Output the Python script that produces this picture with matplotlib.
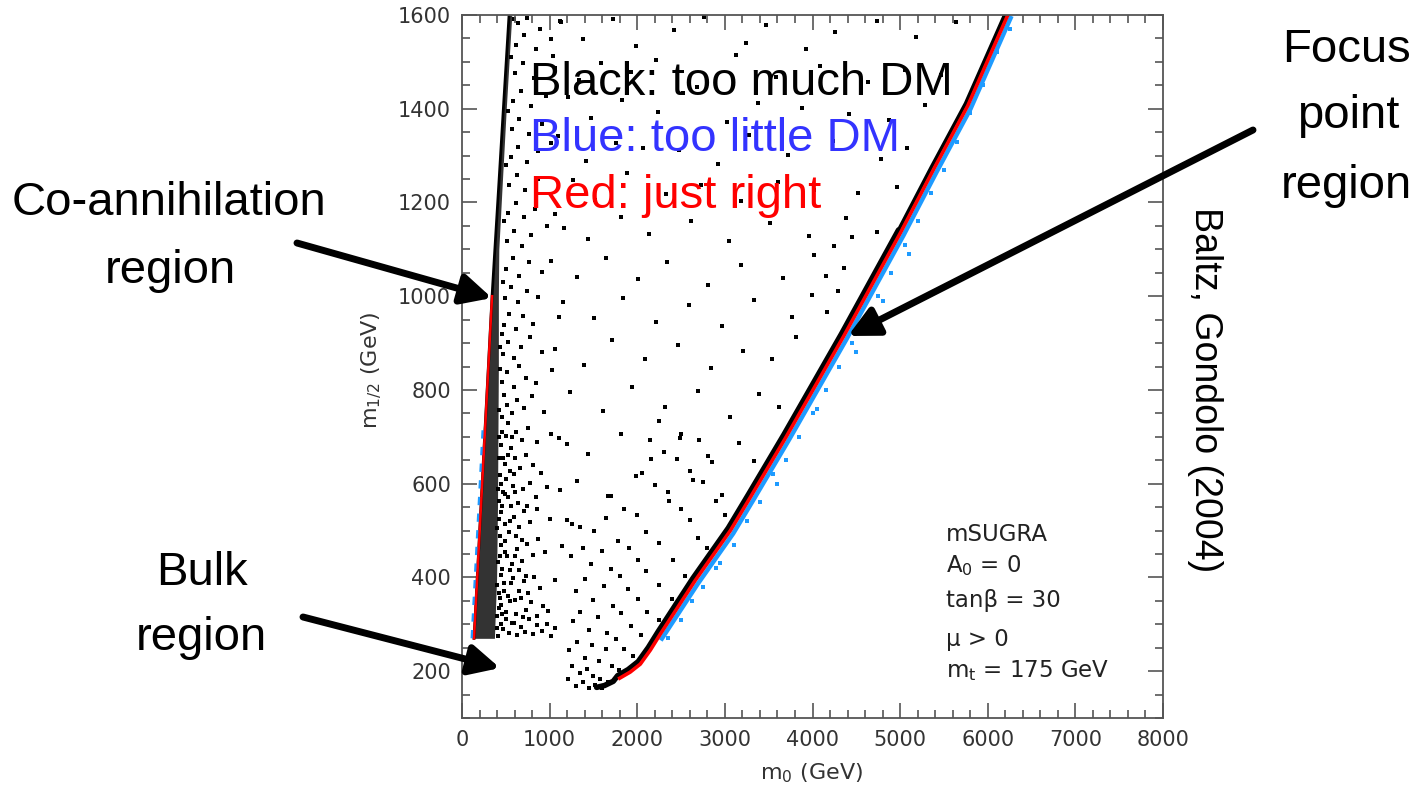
import matplotlib.pyplot as plt
import matplotlib.transforms as mtransforms
from matplotlib.ticker import MultipleLocator
import numpy as np

plt.rcParams['font.family'] = ['DejaVu Sans']
plt.rcParams['mathtext.fontset'] = 'dejavusans'

# co-annihilation strip: left edge and the dense core next to it
coann_m12 = [270, 400, 550, 700, 850, 1000, 1100, 1250, 1400, 1600]
coann_edge_m0 = [137, 174, 216, 258, 301, 343, 375, 424, 472, 537]
coann_core_m0 = [370, 395, 405, 410, 415, 415, 420, 462, 505, 568]
coann_red_m0 = [137, 216, 301, 343]
coann_red_m12 = [270, 550, 850, 1000]
coann_blue_m0 = [137, 216, 262]
coann_blue_m12 = [270, 550, 715]

# focus point strip
focus_black_m0 = [1560, 1650, 1750, 1800, 1920, 2035, 2150, 2263, 2660, 3063, 3291, 3700, 4354, 5006]
focus_black_m12 = [160, 164, 173, 185, 198, 215, 245, 279, 393, 500, 571, 700, 914, 1136]
focus_black_top_m0 = [5006, 5383, 5771, 6229]
focus_black_top_m12 = [1136, 1271, 1406, 1600]
focus_red_m0 = [1800, 1920, 2035, 2150, 2263, 2660, 3063, 3291, 3700, 4354, 5006, 5383, 5771, 6229]
focus_red_m12 = [185, 198, 215, 245, 279, 393, 500, 571, 700, 914, 1136, 1271, 1406, 1600]
focus_blue_m0 = [2250, 2660, 3063, 3291, 3700, 4354, 5006, 5383, 5771, 6229]
focus_blue_m12 = [276, 393, 500, 571, 700, 914, 1136, 1271, 1406, 1600]

# scattered black points (m0, m1/2)
left_cloud = [
    (412, 276), (468, 289), (533, 281), (589, 303), (627, 277), (671, 294), (718, 283), (763, 311),
    (812, 279), (858, 298), (911, 286), (967, 301), (1012, 276), (1058, 292), (440, 300), (500, 312),
    (395, 318), (447, 341), (506, 327), (553, 349), (612, 322), (668, 356), (734, 331), (789, 347),
    (852, 318), (921, 338), (985, 329), (430, 355), (480, 372),
    (421, 367), (476, 389), (528, 361), (585, 398), (646, 372), (702, 392), (757, 366), (823, 401),
    (889, 377), (1064, 395), (450, 405), (545, 415),
    (408, 432), (458, 417), (517, 446), (566, 428), (624, 461), (683, 436), (741, 471), (806, 448),
    (867, 482), (943, 455), (1141, 467), (440, 470), (495, 478),
    (432, 489), (489, 513), (538, 497), (596, 528), (651, 508), (707, 541), (778, 519), (861, 547),
    (1005, 525), (1252, 514), (450, 540), (560, 552),
    (419, 562), (471, 583), (524, 571), (581, 596), (637, 559), (698, 588), (771, 601), (842, 572),
    (967, 593), (1117, 586), (440, 600), (505, 610),
    (437, 618), (493, 641), (548, 627), (602, 655), (663, 634), (731, 661), (812, 639), (905, 622),
    (446, 683), (502, 702), (561, 676), (619, 711), (684, 694), (752, 719), (861, 688), (1012, 707),
    (1196, 684), (470, 655), (530, 730),
    (395, 292), (425, 335), (462, 322), (405, 383), (433, 445), (398, 505), (418, 525), (462, 552),
    (408, 588), (425, 655), (418, 700), (452, 711), (424, 758), (438, 845), (428, 892), (575, 302),
    (610, 352), (555, 387), (600, 446), (495, 455), (620, 489), (545, 520), (490, 578), (595, 620),
    (520, 662), (575, 700), (610, 582), (655, 415), (700, 315), (735, 402), (680, 479), (740, 552),
    (451, 742), (512, 768), (567, 751), (628, 779), (703, 761), (794, 788), (933, 752), (480, 790),
    (462, 816), (519, 838), (588, 807), (652, 851), (731, 826), (846, 815), (1031, 842),
    (473, 877), (528, 903), (597, 869), (672, 891), (774, 912), (911, 881), (455, 920),
    (484, 938), (539, 962), (612, 929), (693, 957), (814, 941), (1108, 956),
    (492, 996), (557, 1019), (634, 987), (737, 1011), (873, 998), (470, 1030),
    (503, 1057), (578, 1081), (651, 1043), (764, 1072), (915, 1052),
    (517, 1118), (593, 1139), (688, 1107), (793, 1131), (972, 1149), (480, 1160),
    (528, 1177), (618, 1199), (707, 1168), (834, 1187), (1062, 1176),
    (541, 1238), (627, 1259), (719, 1227), (873, 1251), (505, 1280),
    (558, 1297), (637, 1318), (738, 1286), (864, 1309), (1013, 1327),
    (572, 1356), (654, 1379), (767, 1347), (917, 1368), (530, 1395),
    (587, 1417), (673, 1438), (793, 1406), (961, 1427),
    (603, 1476), (697, 1497), (817, 1466), (1063, 1487), (560, 1510),
    (618, 1536), (709, 1557), (846, 1527), (1012, 1548),
    (636, 1583), (738, 1594), (893, 1571), (1113, 1588), (590, 1592),
]
middle_cloud = [
    (1130, 1585), (1380, 1548), (1720, 1592), (1985, 1533), (2420, 1568), (2760, 1596), (3240, 1541),
    (3470, 1579), (3930, 1527), (4260, 1563), (4740, 1588), (5180, 1552), (5640, 1584),
    (1040, 1512), (1330, 1461), (1590, 1497), (1930, 1478), (2210, 1503), (2680, 1447), (3130, 1514),
    (3580, 1468), (4080, 1491), (4630, 1456), (5060, 1483), (5470, 1471),
    (1210, 1426), (1470, 1381), (1830, 1419), (2240, 1392), (2520, 1433), (3020, 1371), (3380, 1412),
    (3880, 1402), (4420, 1388), (4870, 1376), (5280, 1409),
    (1090, 1342), (1420, 1288), (1760, 1327), (2060, 1316), (2480, 1311), (2920, 1283), (3270, 1344),
    (3720, 1302), (4230, 1331), (4780, 1293), (5080, 1317),
    (1270, 1247), (1520, 1206), (1880, 1262), (2330, 1219), (2730, 1238), (3180, 1203), (3610, 1244),
    (4020, 1226), (4520, 1221), (4960, 1233),
    (1160, 1146), (1437, 1121), (1812, 1168), (2138, 1133), (2617, 1161), (3042, 1118), (3516, 1157),
    (3962, 1129), (4386, 1166), (4741, 1137),
    (1012, 1076), (1318, 1042), (1642, 1081), (2013, 1036), (2338, 1073), (2812, 1024), (3187, 1066),
    (3661, 1039), (4013, 1087), (4243, 1108), (4362, 1061), (4447, 1126), (4158, 1044), (4295, 1012),
    (1147, 987), (1508, 953), (1838, 996), (2213, 944), (2591, 981), (2962, 936), (3338, 991),
    (3762, 955), (3991, 1002), (4162, 967),
    (1062, 887), (1391, 853), (1713, 906), (2087, 866), (2461, 896), (2843, 847), (3212, 884),
    (3538, 866), (3817, 912),
    (1238, 796), (1612, 754), (1941, 807), (2318, 763), (2689, 797), (3063, 743), (3391, 791),
    (3613, 764),
    (1112, 697), (1438, 663), (1812, 706), (2161, 652), (2488, 697), (2807, 659), (3163, 686),
    (3338, 648),
    (1312, 606), (1662, 574), (1988, 617), (2361, 563), (2637, 608), (2968, 576),
]
bulk_cloud = [
    (1212, 183), (1297, 168), (1381, 176), (1446, 163), (1523, 171), (1597, 164), (1342, 197),
    (1253, 211), (1424, 204), (1496, 189), (1572, 183), (1664, 176),
    (1226, 246), (1318, 263), (1404, 228), (1483, 256), (1561, 221), (1638, 247), (1716, 212),
    (1793, 203),
    (1263, 306), (1348, 327), (1452, 288), (1547, 316), (1653, 281), (1762, 268), (1846, 248),
    (1953, 233),
    (1296, 372), (1403, 396), (1497, 351), (1618, 381), (1723, 338), (1817, 324), (1924, 297),
    (2046, 278), (2153, 261),
    (1247, 446), (1383, 463), (1477, 428), (1603, 456), (1697, 417), (1806, 403), (1897, 376),
    (2003, 353), (2116, 327), (2247, 309),
    (1203, 523), (1352, 507), (1503, 498), (1647, 526), (1776, 477), (1903, 463), (2003, 437),
    (2097, 413), (2253, 383), (2397, 354),
    (1697, 573), (1853, 546), (1997, 533), (2103, 497), (2247, 473), (2403, 437), (2547, 404),
    (2053, 623), (2197, 597), (2353, 583), (2497, 547), (2603, 523), (2697, 484), (2797, 463),
    (2147, 693), (2303, 667), (2453, 653), (2597, 627), (2753, 603), (2897, 563), (2997, 533),
    (2253, 733), (2497, 707), (2703, 693), (2853, 647),
]
# scattered blue points just below the focus point strip
blue_cloud = [
    (2350, 270), (2500, 310), (2620, 350), (2750, 380), (2900, 420), (2950, 430), (3100, 470),
    (3250, 520), (3400, 560), (3550, 620), (3600, 600), (3700, 650), (3850, 700), (4000, 750),
    (4050, 760), (4150, 800), (4300, 850), (4450, 900), (4500, 880), (4600, 950), (4750, 1000),
    (4800, 990), (4900, 1050), (5050, 1110), (5100, 1090), (5200, 1160), (5350, 1220),
    (5500, 1270), (5650, 1330), (5800, 1390), (5950, 1450), (6100, 1520), (6250, 1570),
]

fig = plt.figure(figsize=(14.18, 7.92), dpi=100)
ax = fig.add_axes([462 / 1418, 1 - 718 / 792, 701 / 1418, 703 / 792])

dot = dict(marker='s', s=6, linewidths=0)

# co-annihilation region
ax.fill_betweenx(coann_m12, coann_edge_m0, coann_core_m0, color='black', alpha=0.8, lw=0)
ax.plot(coann_edge_m0, coann_m12, color='black', lw=2)
for cloud in (left_cloud, middle_cloud, bulk_cloud):
    pts = np.array(cloud)
    ax.scatter(pts[:, 0], pts[:, 1], color='black', **dot)

left_shift = mtransforms.offset_copy(ax.transData, fig=fig, x=-1.5, y=0, units='points')
ax.plot(coann_blue_m0, coann_blue_m12, color='#1e9bff', lw=2, dashes=(3, 3), transform=left_shift)
ax.plot(coann_red_m0, coann_red_m12, color='red', lw=1.8)

# focus point region
up_shift = mtransforms.offset_copy(ax.transData, fig=fig, x=-1.5, y=1.8, units='points')
down_shift = mtransforms.offset_copy(ax.transData, fig=fig, x=2.0, y=-2.2, units='points')
ax.plot(focus_black_m0, focus_black_m12, color='black', lw=4.0, transform=up_shift,
        solid_capstyle='round')
ax.plot(focus_black_top_m0, focus_black_top_m12, color='black', lw=2.6, transform=up_shift)
ax.plot(focus_blue_m0, focus_blue_m12, color='#1e9bff', lw=3.2, transform=down_shift)
bpts = np.array(blue_cloud)
ax.scatter(bpts[:, 0], bpts[:, 1], color='#1e9bff', **dot)
ax.plot(focus_red_m0, focus_red_m12, color='red', lw=2.6)

# axes
ax.set_xlim(0, 8000)
ax.set_ylim(100, 1600)
ax.set_xticks(np.arange(0, 8001, 1000))
ax.set_yticks(np.arange(200, 1601, 200))
ax.xaxis.set_minor_locator(MultipleLocator(200))
ax.yaxis.set_minor_locator(MultipleLocator(50))
ax.tick_params(which='both', direction='in', top=True, right=True, color='#555555',
               width=1.2, labelsize=15, labelcolor='#333333')
ax.tick_params(which='major', length=11)
ax.tick_params(which='minor', length=5.5)
ax.tick_params(axis='x', pad=9)
ax.tick_params(axis='y', pad=8)
for sp in ax.spines.values():
    sp.set_color('#555555')
    sp.set_linewidth(1.3)

fig.text(812 / 1418, 1 - 773 / 792, r'm$_0$ (GeV)', ha='center', va='center',
         fontsize=16, color='#333333')
fig.text(372 / 1418, 1 - 370 / 792, r'm$_{1/2}$ (GeV)', ha='center', va='center',
         fontsize=16, color='#333333', rotation=90)

# parameter box
params = ['mSUGRA', r'A$_0$ = 0', 'tanβ = 30', 'μ > 0', r'm$_\mathrm{t}$ = 175 GeV']
param_y = [541, 572, 607, 646, 677]
for txt, py in zip(params, param_y):
    fig.text(946 / 1418, 1 - py / 792, txt, ha='left', va='baseline', fontsize=16.5,
             color='#222222')

# legend words
big = dict(family='Liberation Sans', fontsize=34, va='baseline')
fig.text(530 / 1418, 1 - 95 / 792, 'Black: too much DM', color='black', ha='left', **big)
fig.text(530 / 1418, 1 - 151 / 792, 'Blue: too little DM', color='#3333ff', ha='left', **big)
fig.text(530 / 1418, 1 - 208 / 792, 'Red: just right', color='red', ha='left', **big)

# region names
labels = [('Co-annihilation', 169, 215), ('region', 170, 283),
          ('Bulk', 202, 585), ('region', 201, 650),
          ('Focus', 1346, 62), ('point', 1348, 128), ('region', 1346, 198)]
for txt, lx, ly in labels:
    fig.text(lx / 1418, 1 - ly / 792, txt, color='black', ha='center', **big)

fig.text(1205 / 1418, 1 - 390 / 792, 'Baltz, Gondolo (2004)', family='Liberation Sans',
         fontsize=27, rotation=-90, ha='center', va='center', color='black')

# arrows (figure pixels, from the top-left corner)
arrows = [((297, 243), (492, 298)), ((303, 617), (500, 668)), ((1253, 130), (848, 336))]
for (tx, ty), (hx, hy) in arrows:
    ax.annotate('', xy=(hx / 1418, 1 - hy / 792), xycoords='figure fraction',
                xytext=(tx / 1418, 1 - ty / 792), textcoords='figure fraction',
                arrowprops=dict(arrowstyle='-|>,head_length=0.9,head_width=0.45',
                                lw=5, color='black', mutation_scale=20,
                                shrinkA=0, shrinkB=0),
                annotation_clip=False)

fig.savefig('out.png', dpi=100)
